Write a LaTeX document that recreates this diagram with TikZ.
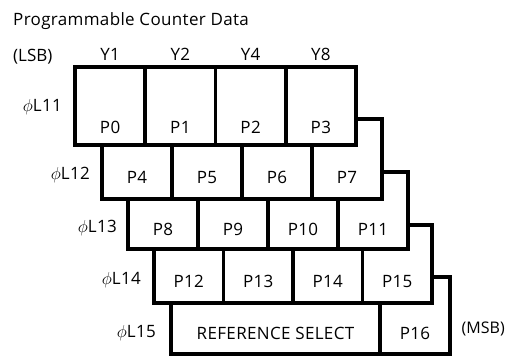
\documentclass[tikz,border=0pt]{standalone}
\usepackage{fontspec}
\setmainfont[LetterSpace=2]{Open Sans}
\newfontfamily\tightfont{Open Sans}
\begin{document}
\begin{tikzpicture}[x=1pt,y=-1pt,
  cell/.style={draw, line width=3.8pt, fill=white, inner sep=0pt, outer sep=0pt, anchor=north west},
  txt/.style={font=\fontsize{17}{20}\selectfont, inner sep=0pt, anchor=base},
  side/.style={font=\fontsize{17}{20}\selectfont, inner sep=0pt, anchor=base east}]
\useasboundingbox (0,0) rectangle (506,356);
% row 4
\node[cell, minimum width=209pt, minimum height=77pt] (c40) at (171,277) {};
\node[cell, minimum width=70pt, minimum height=77pt] (c41) at (380,277) {};
\node[txt] (t40) at (275.5,339) {REFERENCE SELECT};
\node[txt] (t41) at (415,339) {P16};
\node[side] (l4) at (156,337) {$\phi$L15};
% row 3
\foreach \c/\lab in {0/P12,1/P13,2/P14,3/P15}{
  \node[cell, minimum width=69.5pt, minimum height=78pt] (c3\c) at ({154+69.5*\c},225) {};
}
\foreach \c/\lab in {0/P12,1/P13,2/P14,3/P15}{
  \node[txt] (t3\c) at ({154+69.5*(\c+0.5)},287) {\lab};
}
\node[side] (l3) at (141,284) {$\phi$L14};
% row 2
\foreach \c/\lab in {0/P8,1/P9,2/P10,3/P11}{
  \node[cell, minimum width=70pt, minimum height=77pt] (c2\c) at ({128+70*\c},172) {};
}
\foreach \c/\lab in {0/P8,1/P9,2/P10,3/P11}{
  \node[txt] (t2\c) at ({128+70*(\c+0.5)},235) {\lab};
}
\node[side] (l2) at (117,232) {$\phi$L13};
% row 1
\foreach \c/\lab in {0/P4,1/P5,2/P6,3/P7}{
  \node[cell, minimum width=70pt, minimum height=80pt] (c1\c) at ({102+70*\c},119) {};
}
\foreach \c/\lab in {0/P4,1/P5,2/P6,3/P7}{
  \node[txt] (t1\c) at ({102+70*(\c+0.5)},183) {\lab};
}
\node[side] (l1) at (90,179) {$\phi$L12};
% row 0
\foreach \c/\lab/\y in {0/P0/Y1,1/P1/Y2,2/P2/Y4,3/P3/Y8}{
  \node[cell, minimum width=70.25pt, minimum height=78pt] (c0\c) at ({75+70.25*\c},67) {};
  \node[txt] (t0\c) at ({75+70.25*(\c+0.5)},133) {\lab};
  \node[txt] (y\c) at ({75+70.25*(\c+0.5)},60) {\y};
}
\node[side] (l0) at (62,111) {$\phi$L11};
% titles
\node[txt, anchor=base west] (title) at (13,25) {Programmable Counter Data};
\node[txt, anchor=base west] (lsb) at (13,61) {\tightfont (LSB)};
\node[txt, anchor=base east, font=\fontsize{16}{19}\selectfont] (msb) at (505,333) {\tightfont (MSB)};
\end{tikzpicture}
\end{document}
